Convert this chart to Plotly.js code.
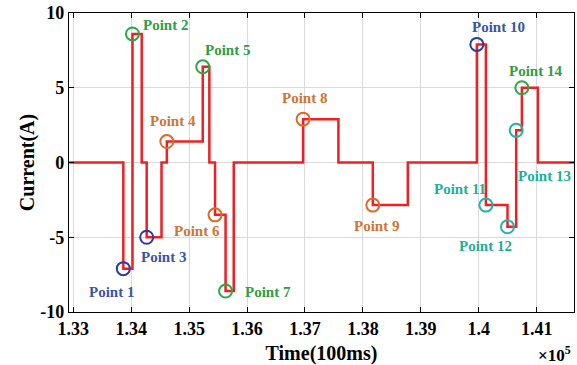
<!DOCTYPE html>
<html>
<head>
<meta charset="utf-8">
<script src="https://cdn.plot.ly/plotly-3.0.1.min.js"></script>
<style>html,body{margin:0;padding:0;background:#fff;}#chart{width:577px;height:365px;}</style>
</head>
<body>
<div id="chart"></div>
<script>
// Step waveform (time in units of 1e5 x 100ms, current in A)
const stepTime = [1.3293, 1.33864, 1.34022, 1.34181, 1.34267, 1.34523, 1.34615, 1.35235, 1.35349, 1.35447, 1.35629, 1.3577, 1.36967, 1.37577, 1.38171, 1.38775, 1.39967, 1.40123, 1.40496, 1.40646, 1.40744, 1.41021, 1.4165];
const stepCurrent = [0, -7.1, 8.6, 0, -5.0, 0, 1.4, 6.4, 0, -3.5, -8.6, 0, 2.9, 0, -2.85, 0, 7.9, -2.85, -4.3, 2.15, 5.0, 0, 0];

// Marked points
const pointNames = ['Point 1','Point 2','Point 3','Point 4','Point 5','Point 6','Point 7','Point 8','Point 9','Point 10','Point 11','Point 12','Point 13','Point 14'];
const pointTime = [1.33864, 1.34022, 1.34267, 1.34615, 1.35235, 1.35447, 1.35629, 1.36967, 1.38171, 1.39967, 1.40123, 1.40496, 1.40646, 1.40744];
const pointCurrent = [-7.1, 8.6, -5.0, 1.4, 6.4, -3.5, -8.6, 2.9, -2.85, 7.9, -2.85, -4.3, 2.15, 5.0];
const pointGroup = ['blue','green','blue','orange','green','orange','green','orange','orange','blue','teal','teal','teal','green'];

// Tick labels
const xTickVals = [1.33, 1.34, 1.35, 1.36, 1.37, 1.38, 1.39, 1.40, 1.41];
const xTickText = ['1.33','1.34','1.35','1.36','1.37','1.38','1.39','1.4','1.41'];
const yTickVals = [-10, -5, 0, 5, 10];
const yTickText = ['-10','-5','0','5','10'];

// Styling
const circleColor = {blue:'#2c3c9c', green:'#2ba84a', orange:'#dd6a2a', teal:'#22b3aa'};
const labelColor = {blue:'#3a55a6', green:'#2e9c48', orange:'#d07434', teal:'#1fae98'};
// label offsets in pixels (dx right, dy down)
const labelOffset = [[-12,23],[33,-9],[17,20],[6,-21],[25,-17],[-18,16],[42,1],[1,-21],[4,21],[22,-17],[-26,-16],[-22,19],[28,46],[14,-17]];

const FONT = '"Liberation Serif", "Times New Roman", Times, serif';

const traces = [
  {
    x: stepTime, y: stepCurrent, type: 'scatter', mode: 'lines',
    line: {shape: 'hv', color: '#ee2024', width: 2.5},
    hoverinfo: 'skip', showlegend: false
  },
  {
    x: pointTime, y: pointCurrent, type: 'scatter', mode: 'markers',
    marker: {symbol: 'circle-open', size: 13, color: pointGroup.map(g => circleColor[g]), line: {width: 2, color: pointGroup.map(g => circleColor[g])}},
    hoverinfo: 'skip', showlegend: false
  }
];

const annotations = pointNames.map((name, i) => ({
  x: pointTime[i], y: pointCurrent[i], xref: 'x', yref: 'y',
  text: '<b>' + name + '</b>', showarrow: false,
  xshift: labelOffset[i][0], yshift: -labelOffset[i][1],
  xanchor: 'center', yanchor: 'middle',
  font: {family: FONT, size: 15, color: labelColor[pointGroup[i]]}
}));
annotations.push({
  xref: 'paper', yref: 'paper', x: 1, y: 0, xanchor: 'right', yanchor: 'top',
  xshift: -1, yshift: -29, showarrow: false,
  text: '<b>×10<sup>5</sup></b>',
  font: {family: FONT, size: 17, color: '#000'}
});

const layout = {
  width: 577, height: 365,
  margin: {l: 69, r: 3, t: 13, b: 53, pad: 0},
  paper_bgcolor: '#fff', plot_bgcolor: '#fff',
  font: {family: FONT, color: '#000'},
  xaxis: {
    range: [1.32926, 1.41644], tickvals: xTickVals, ticktext: xTickText,
    ticks: 'inside', ticklen: 5, tickcolor: '#000', tickwidth: 1,
    showline: true, linecolor: '#000', linewidth: 1.2, mirror: 'ticks',
    showgrid: true, gridcolor: '#dadada', gridwidth: 1, zeroline: false,
    tickfont: {family: FONT, size: 18, color: '#000', weight: 'bold'},
    title: {text: '<b>Time(100ms)</b>', font: {family: FONT, size: 20, color: '#000'}, standoff: 8}
  },
  yaxis: {
    range: [-10, 10], tickvals: yTickVals, ticktext: yTickText,
    ticks: 'inside', ticklen: 5, tickcolor: '#000', tickwidth: 1,
    showline: true, linecolor: '#000', linewidth: 1.2, mirror: 'ticks',
    showgrid: true, gridcolor: '#dadada', gridwidth: 1, zeroline: false,
    tickfont: {family: FONT, size: 18, color: '#000', weight: 'bold'},
    title: {text: '<b>Current(A)</b>', font: {family: FONT, size: 20, color: '#000'}, standoff: 0}
  },
  annotations: annotations
};

Plotly.newPlot('chart', traces, layout, {staticPlot: true, displayModeBar: false});
</script>
</body>
</html>
